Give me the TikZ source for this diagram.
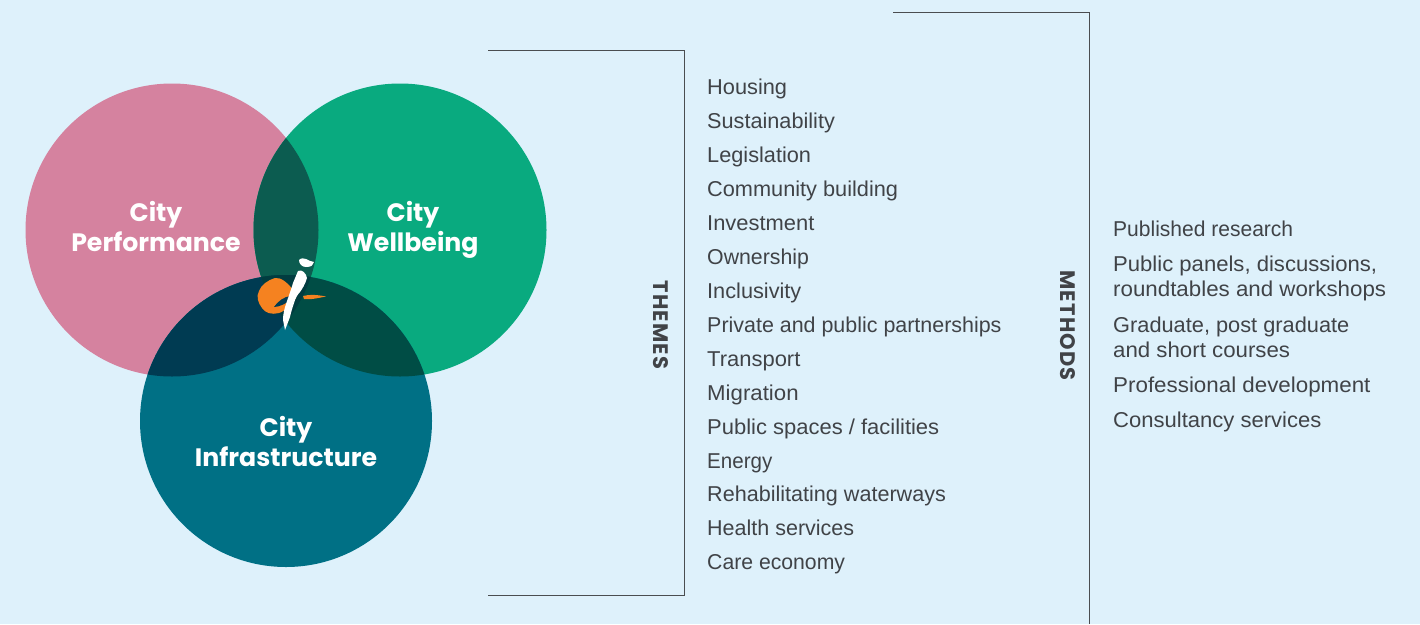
\documentclass[tikz,border=0pt]{standalone}
\usepackage{fontspec}
\usepackage{graphicx}
\setmainfont{Liberation Sans}
\newfontfamily\headfont{Poppins}
\newfontfamily\sidefont[LetterSpace=5.5]{Poppins}
\newcommand{\hs}[2]{\scalebox{#1}[1]{#2}}
\newcommand{\lnstrut}{\rule[-7pt]{0pt}{30pt}}
\definecolor{bgc}{HTML}{DEF1FB}
\definecolor{pinkc}{HTML}{D5829F}
\definecolor{greenc}{HTML}{09AA7F}
\definecolor{tealc}{HTML}{007085}
\definecolor{pgc}{HTML}{0C5C50}
\definecolor{ptc}{HTML}{003B52}
\definecolor{gtc}{HTML}{004D45}
\definecolor{allc}{HTML}{013C40}
\definecolor{orangec}{HTML}{F58220}
\definecolor{textc}{HTML}{404347}
\definecolor{linec}{HTML}{4A4D50}
\tikzset{
  x=1pt,y=-1pt,
  circlabel/.style={font=\headfont\fontsize{25.2}{30}\selectfont\bfseries,text=white,align=center,inner sep=0pt},
  listitem/.style={font=\fontsize{21.5}{26}\selectfont,text=textc,anchor=base west,inner sep=0pt},
  vlabel/.style={font=\sidefont\fontsize{21}{24}\selectfont\bfseries,text=textc,rotate=-90,inner sep=0pt},
  bracketline/.style={draw=linec,line width=1.1pt}
}
\begin{document}
\begin{tikzpicture}
\useasboundingbox (0,0) rectangle (1420,624);
\fill[bgc] (0,0) rectangle (1420,624);
\coordinate (P) at (172,230);
\coordinate (G) at (400,230);
\coordinate (T) at (286,421);
\fill[pinkc] (P) circle (146.5);
\fill[greenc] (G) circle (146.5);
\fill[tealc] (T) circle (146);
\begin{scope}\clip (P) circle (146.5); \fill[pgc] (G) circle (146.5); \fill[ptc] (T) circle (146);\end{scope}
\begin{scope}\clip (G) circle (146.5); \fill[gtc] (T) circle (146);\end{scope}
\begin{scope}\clip (P) circle (146.5); \clip (G) circle (146.5); \fill[allc] (T) circle (146);\end{scope}
% logo figure
\fill[orangec] (275,278) .. controls (281,277) and (288,283) .. (294,291)
  -- (296,298) .. controls (292,303) and (286,311) .. (279,313)
  .. controls (272,315) and (265,313) .. (262,308)
  .. controls (258,303) and (256,296) .. (259,291)
  .. controls (261,285) and (268,280) .. (275,278) -- cycle;
\fill[ptc] (290,296) .. controls (284,297) and (278,301) .. (274,307)
  .. controls (280,307) and (286,303) .. (291,300) -- cycle;
\fill[orangec] (303,296) .. controls (310,294) and (318,295) .. (326,296.5) .. controls (318,298) and (310,300) .. (304,299) -- cycle;
\fill[white] (298,271) .. controls (302,269) and (306,273) .. (307,278)
  .. controls (305,285) and (302,289) .. (300,292) .. controls (297,295) and (296,298) .. (295,300)
  .. controls (293,306) and (291,312) .. (290,317) -- (285,330)
  -- (283,320) .. controls (283,315) and (284,311) .. (285,307)
  .. controls (288,298) and (291,290) .. (293,283) -- cycle;
\fill[white] (299,260) .. controls (302,257) and (304,259) .. (306,259) .. controls (309,261) and (311,261) .. (314,262) .. controls (313,265) and (312,267) .. (306,267) .. controls (302,267) and (299,264) .. (299,260) -- cycle;
% circle labels
\node[circlabel] (lp) at (156,228.5) {\lnstrut City\\\lnstrut Performance};
\node[circlabel] (lg) at (413,228.5) {\lnstrut City\\\lnstrut Wellbeing};
\node[circlabel] (lt) at (286,443.5) {\lnstrut City\\\lnstrut Infrastructure};
% brackets
\draw[bracketline] (488,50.5) -- (684.5,50.5) -- (684.5,595.5) -- (488,595.5);
\draw[bracketline] (893,12.5) -- (1089.5,12.5) -- (1089.5,624);
\node[vlabel] (themes) at (661,325) {THEMES};
\node[vlabel] (methods) at (1068,325.5) {METHODS};
% themes
\node[listitem] (t1) at (707,94) {\hs{1.013}{Housing}};
\node[listitem] (t2) at (707,128) {\hs{1.008}{Sustainability}};
\node[listitem] (t3) at (707,162) {\hs{1.01}{Legislation}};
\node[listitem] (t4) at (707,196) {\hs{1.011}{Community building}};
\node[listitem] (t5) at (707,230) {\hs{1.019}{Investment}};
\node[listitem] (t6) at (707,264) {\hs{0.99}{Ownership}};
\node[listitem] (t7) at (707,298) {\hs{1.01}{Inclusivity}};
\node[listitem] (t8) at (707,332) {\hs{0.997}{Private and public partnerships}};
\node[listitem] (t9) at (707,366) {\hs{1.022}{Transport}};
\node[listitem] (t10) at (707,400) {\hs{1.034}{Migration}};
\node[listitem] (t11) at (707,434) {\hs{1.022}{Public spaces / facilities}};
\node[listitem] (t12) at (707,468) {\hs{0.956}{Energy}};
\node[listitem] (t13) at (707,501) {\hs{1.004}{Rehabilitating waterways}};
\node[listitem] (t14) at (707,535) {Health services};
\node[listitem] (t15) at (707,569) {\hs{0.986}{Care economy}};
% methods
\node[listitem] (m1) at (1113,236) {\hs{0.978}{Published research}};
\node[listitem] (m2) at (1113,271) {\hs{1.027}{Public panels, discussions,}};
\node[listitem] (m2b) at (1113,296) {\hs{1.038}{roundtables and workshops}};
\node[listitem] (m3) at (1113,332) {\hs{1.013}{Graduate, post graduate}};
\node[listitem] (m3b) at (1113,357) {\hs{1.035}{and short courses}};
\node[listitem] (m4) at (1113,392) {\hs{1.04}{Professional development}};
\node[listitem] (m5) at (1113,427) {\hs{1.025}{Consultancy services}};
\end{tikzpicture}
\end{document}
